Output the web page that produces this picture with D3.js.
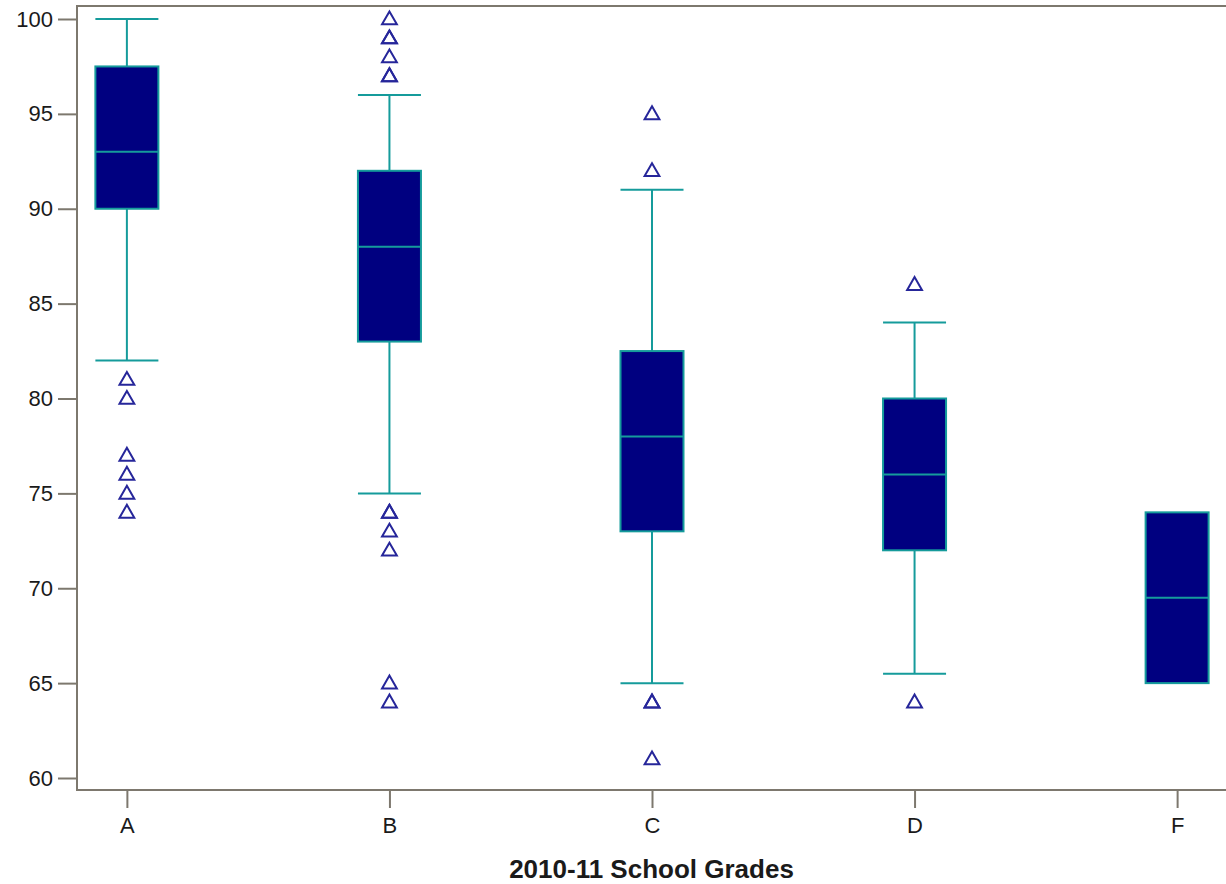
<!DOCTYPE html>
<html>
<head>
<meta charset="utf-8">
<script src="https://cdn.jsdelivr.net/npm/d3@7"></script>
<style>
  body { margin: 0; background: #ffffff; }
  svg { display: block; font-family: "Liberation Sans", Arial, sans-serif; }
  .tick text { fill: #1a1a1a; }
</style>
</head>
<body>
<svg width="1226" height="884"></svg>
<script>
// grades on the x axis
const grades = ['A', 'B', 'C', 'D', 'F']
// box stats
const lowWhisker = [82, 75, 65, 65.5, 65]
const q1 = [90, 83, 73, 72, 65]
const medians = [93, 88, 78, 76, 69.5]
const q3 = [97.5, 92, 82.5, 80, 74]
const highWhisker = [100, 96, 91, 84, 74]
// outliers per grade (repeats drawn twice, as in the picture)
const outliers = [
  [81, 80, 77, 76, 75, 74],
  [100, 99, 99, 98, 97, 97, 74, 74, 73, 72, 65, 64],
  [95, 92, 64, 64, 61],
  [86, 64],
  []
]
const yTicks = [60, 65, 70, 75, 80, 85, 90, 95, 100]

const svg = d3.select('svg')
const plotLeft = 77, plotTop = 6, plotRight = 1227, plotBottom = 790

const x = d3.scalePoint()
  .domain(grades)
  .range([plotLeft, plotRight])
  .padding(0.19)

const y = d3.scaleLinear()
  .domain([60, 100])
  .range([778, 19])

const axisColor = '#7d786e'
const teal = '#159b9b'
const navy = '#000080'
const boxW = 63

// plot frame
svg.append('rect')
  .attr('x', plotLeft)
  .attr('y', plotTop)
  .attr('width', plotRight - plotLeft)
  .attr('height', plotBottom - plotTop)
  .style('fill', 'none')
  .style('stroke', axisColor)
  .style('stroke-width', 2)

// y axis
const yAxis = svg.append('g')
  .attr('transform', `translate(${plotLeft}, 0)`)
  .call(d3.axisLeft(y).tickValues(yTicks).tickSize(19).tickPadding(5))
yAxis.select('.domain').remove()
yAxis.selectAll('line').style('stroke', axisColor).style('stroke-width', 2)
yAxis.selectAll('text').style('font-size', '22px')

// x axis
const xAxis = svg.append('g')
  .attr('transform', `translate(0, ${plotBottom})`)
  .call(d3.axisBottom(x).tickSize(18).tickPadding(9))
xAxis.select('.domain').remove()
xAxis.selectAll('line').style('stroke', axisColor).style('stroke-width', 2)
xAxis.selectAll('text').style('font-size', '22px')

// axis title
svg.append('text')
  .attr('x', (plotLeft + 1226) / 2)
  .attr('y', 878)
  .attr('text-anchor', 'middle')
  .style('font-size', '26px')
  .style('font-weight', 'bold')
  .style('fill', '#1a1a1a')
  .text('2010-11 School Grades')

// one group per grade
const boxes = svg.selectAll('g.box')
  .data(grades)
  .enter()
  .append('g')
  .attr('class', 'box')
  .attr('transform', d => `translate(${x(d)}, 0)`)

// whisker stems
boxes.append('line')
  .attr('y1', (d, i) => y(highWhisker[i]))
  .attr('y2', (d, i) => y(q3[i]))
  .style('stroke', teal).style('stroke-width', 2)
boxes.append('line')
  .attr('y1', (d, i) => y(q1[i]))
  .attr('y2', (d, i) => y(lowWhisker[i]))
  .style('stroke', teal).style('stroke-width', 2)

// whisker caps (skip where whisker = box edge)
boxes.filter((d, i) => highWhisker[i] !== q3[i])
  .append('line')
  .attr('x1', -boxW / 2).attr('x2', boxW / 2)
  .attr('y1', d => y(highWhisker[grades.indexOf(d)]))
  .attr('y2', d => y(highWhisker[grades.indexOf(d)]))
  .style('stroke', teal).style('stroke-width', 2)
boxes.filter((d, i) => lowWhisker[i] !== q1[i])
  .append('line')
  .attr('x1', -boxW / 2).attr('x2', boxW / 2)
  .attr('y1', d => y(lowWhisker[grades.indexOf(d)]))
  .attr('y2', d => y(lowWhisker[grades.indexOf(d)]))
  .style('stroke', teal).style('stroke-width', 2)

// the box
boxes.append('rect')
  .attr('x', -boxW / 2)
  .attr('y', (d, i) => y(q3[i]))
  .attr('width', boxW)
  .attr('height', (d, i) => y(q1[i]) - y(q3[i]))
  .style('fill', navy)
  .style('stroke', teal)
  .style('stroke-width', 2)

// median
boxes.append('line')
  .attr('x1', -boxW / 2).attr('x2', boxW / 2)
  .attr('y1', (d, i) => y(medians[i]))
  .attr('y2', (d, i) => y(medians[i]))
  .style('stroke', teal).style('stroke-width', 2)

// outlier triangles
const tri = d3.symbol().type(d3.symbolTriangle).size(95)
boxes.selectAll('path.outlier')
  .data((d, i) => outliers[i])
  .enter()
  .append('path')
  .attr('class', 'outlier')
  .attr('d', tri)
  .attr('transform', d => `translate(0, ${y(d) + 1})`)
  .style('fill', 'none')
  .style('stroke', '#26269a')
  .style('stroke-width', 2)
</script>
</body>
</html>
